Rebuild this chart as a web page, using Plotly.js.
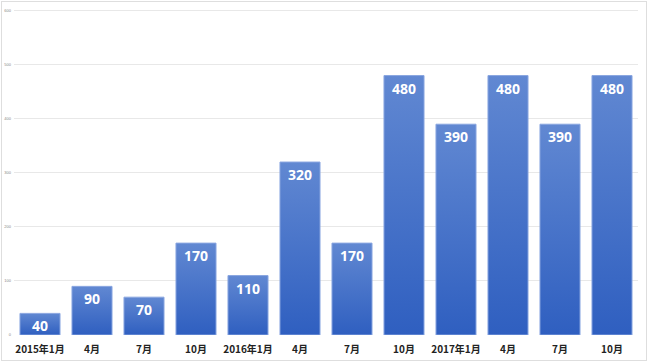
<!DOCTYPE html>
<html>
<head>
<meta charset="utf-8">
<script src="https://cdn.plot.ly/plotly-3.0.1.min.js"></script>
<style>
html,body{margin:0;padding:0;background:#fff;}
#chart{width:650px;height:364px;}
#frame{position:absolute;left:1px;top:1px;width:646px;height:360px;border:1px solid #dedede;box-sizing:border-box;pointer-events:none;}
</style>
</head>
<body>
<div id="chart"></div>
<div id="frame"></div>
<script>
var categories = ["2015年1月","4月","7月","10月","2016年1月","4月","7月","10月","2017年1月","4月","7月","10月"];
var values = [40, 90, 70, 170, 110, 320, 170, 480, 390, 480, 390, 480];
var yTicks = [0, 100, 200, 300, 400, 500, 600];

var xIdx = categories.map(function(_, i){ return i; });

var trace = {
  type: 'bar',
  x: xIdx,
  y: values,
  text: values.map(String),
  textposition: 'inside',
  insidetextanchor: 'end',
  constraintext: 'none',
  textangle: 0,
  textfont: {family: '"Noto Sans", "Open Sans", sans-serif', size: 14, color: '#ffffff', weight: 'bold'},
  marker: {color: '#4673cb', line: {color: '#8aa6e0', width: 1}},
  hoverinfo: 'none',
  cliponaxis: false
};

var layout = {
  width: 650, height: 364,
  margin: {l: 14, r: 12, t: 8, b: 29},
  paper_bgcolor: '#ffffff',
  plot_bgcolor: '#ffffff',
  bargap: 0.23,
  showlegend: false,
  xaxis: {
    tickmode: 'array', tickvals: xIdx, ticktext: categories,
    range: [-0.5, categories.length - 0.5],
    showgrid: false, zeroline: false, showline: false, ticks: '',
    tickfont: {family: '"Noto Sans CJK JP", "Noto Sans", sans-serif', size: 10, color: '#222222', weight: 'bold'},
    ticklabelstandoff: 7
  },
  yaxis: {
    range: [0, 605],
    tickmode: 'array', tickvals: yTicks,
    showgrid: true, gridcolor: '#e8e8e8', gridwidth: 1,
    zeroline: false, showline: false, ticks: '',
    tickfont: {family: 'Liberation Sans, sans-serif', size: 4, color: '#888888'},
    ticklabelstandoff: 2
  }
};

Plotly.newPlot('chart', [trace], layout, {displayModeBar: false, staticPlot: true}).then(function(gd){
  var svg = gd.querySelector('svg.main-svg');
  var ns = 'http://www.w3.org/2000/svg';
  var defs = svg.querySelector('defs');
  if (!defs) { defs = document.createElementNS(ns, 'defs'); svg.insertBefore(defs, svg.firstChild); }
  var g = document.createElementNS(ns, 'linearGradient');
  g.setAttribute('id', 'barGrad');
  g.setAttribute('x1', '0'); g.setAttribute('y1', '0');
  g.setAttribute('x2', '0'); g.setAttribute('y2', '1');
  var s1 = document.createElementNS(ns, 'stop');
  s1.setAttribute('offset', '0'); s1.setAttribute('stop-color', '#6188d2');
  var s2 = document.createElementNS(ns, 'stop');
  s2.setAttribute('offset', '1'); s2.setAttribute('stop-color', '#2f5fc0');
  g.appendChild(s1); g.appendChild(s2);
  defs.appendChild(g);
  gd.querySelectorAll('.barlayer .point path').forEach(function(p){
    p.style.fill = 'url(#barGrad)';
  });
});
</script>
</body>
</html>
